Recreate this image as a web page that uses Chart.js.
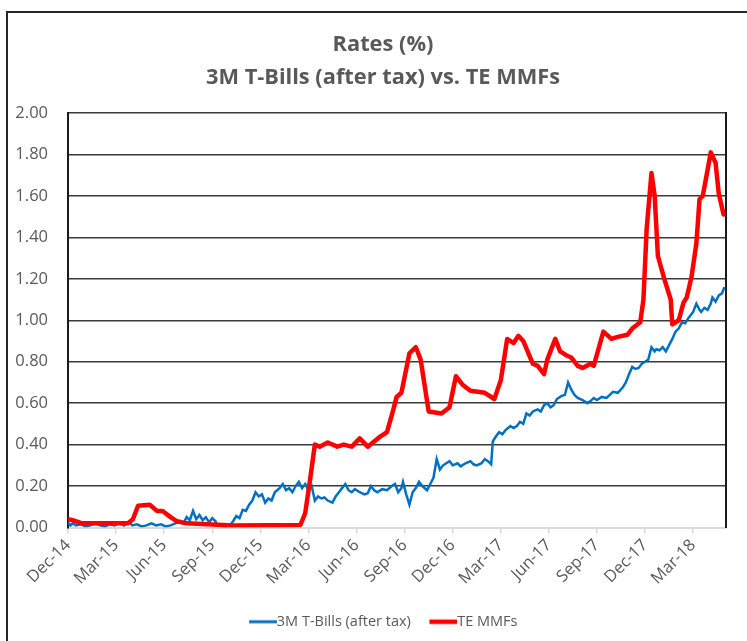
<!DOCTYPE html>
<html>
<head>
<meta charset="utf-8">
<script src="https://cdn.jsdelivr.net/npm/chart.js@4.4.0/dist/chart.umd.min.js"></script>
<style>
  html, body { margin: 0; padding: 0; background: #fff; overflow: hidden; }
  #rates { display: block; }
</style>
</head>
<body>
<canvas id="rates" width="766" height="641"></canvas>
<script>
// x values are months counted from Dec-14
const quarterMonths = [0, 3, 6, 9, 12, 15, 18, 21, 24, 27, 30, 33, 36, 39];
const quarterLabels = ["Dec-14", "Mar-15", "Jun-15", "Sep-15", "Dec-15", "Mar-16", "Jun-16",
  "Sep-16", "Dec-16", "Mar-17", "Jun-17", "Sep-17", "Dec-17", "Mar-18"];

const tbillMonths = [0, 0.15, 0.3, 0.5, 0.8, 1.1, 1.4, 1.7, 2.0, 2.3, 2.6, 2.9, 3.2, 3.5, 3.8, 4.0,
  4.3, 4.6, 4.9, 5.2, 5.5, 5.8, 6.1, 6.4, 6.7, 7.0, 7.2, 7.4, 7.6, 7.8, 8.0, 8.2, 8.4, 8.6, 8.8,
  9.0, 9.2, 9.3, 9.8, 10.1, 10.3, 10.5, 10.7, 10.9, 11.1, 11.3, 11.5, 11.7, 11.9, 12.1, 12.3,
  12.5, 12.7, 12.9, 13.2, 13.4, 13.6, 13.8, 14.0, 14.2, 14.4, 14.6, 14.8, 15.0, 15.2, 15.4,
  15.6, 15.8, 16.0, 16.2, 16.5, 16.7, 16.9, 17.1, 17.3, 17.5, 17.7, 17.9, 18.2, 18.5, 18.7,
  18.9, 19.1, 19.3, 19.6, 19.9, 20.2, 20.4, 20.6, 20.8, 20.9, 21.1, 21.3, 21.5, 21.7, 21.9,
  22.1, 22.4, 22.6, 22.8, 23.0, 23.2, 23.4, 23.6, 23.8, 24.0, 24.3, 24.5, 24.8, 25.1, 25.3,
  25.5, 25.8, 26.0, 26.2, 26.4, 26.5, 26.7, 26.9, 27.1, 27.3, 27.6, 27.8, 28.0, 28.2, 28.4,
  28.6, 28.8, 29.0, 29.3, 29.5, 29.7, 29.9, 30.1, 30.3, 30.5, 30.8, 31.0, 31.2, 31.4, 31.6,
  31.8, 32.1, 32.4, 32.6, 32.8, 33.0, 33.3, 33.6, 33.8, 34.0, 34.3, 34.6, 34.8, 35.0, 35.2,
  35.4, 35.6, 35.8, 36.0, 36.2, 36.4, 36.6, 36.7, 36.9, 37.1, 37.3, 37.5, 37.7, 37.9, 38.1,
  38.3, 38.5, 38.7, 38.9, 39.0, 39.2, 39.4, 39.5, 39.7, 39.9, 40.1, 40.2, 40.4, 40.6, 40.8, 40.95];
const tbillRates = [0.025, 0.01, 0.02, 0.01, 0.015, 0.005, 0.01, 0.02, 0.01, 0.005, 0.015, 0.01,
  0.02, 0.01, 0.03, 0.01, 0.015, 0.005, 0.01, 0.02, 0.01, 0.015, 0.005, 0.01, 0.02, 0.03, 0.02,
  0.05, 0.035, 0.08, 0.04, 0.06, 0.035, 0.05, 0.025, 0.045, 0.03, 0.01, 0.005, 0.01, 0.03,
  0.055, 0.045, 0.085, 0.08, 0.11, 0.13, 0.17, 0.15, 0.16, 0.12, 0.14, 0.13, 0.17, 0.19, 0.21,
  0.18, 0.19, 0.17, 0.2, 0.22, 0.19, 0.21, 0.18, 0.2, 0.13, 0.15, 0.14, 0.145, 0.13, 0.12,
  0.15, 0.17, 0.19, 0.21, 0.18, 0.17, 0.185, 0.17, 0.16, 0.165, 0.2, 0.18, 0.17, 0.185, 0.18,
  0.2, 0.21, 0.17, 0.19, 0.22, 0.16, 0.11, 0.17, 0.19, 0.22, 0.2, 0.18, 0.21, 0.24, 0.33, 0.28,
  0.3, 0.31, 0.32, 0.3, 0.31, 0.295, 0.31, 0.32, 0.305, 0.3, 0.31, 0.33, 0.32, 0.305, 0.415,
  0.44, 0.46, 0.45, 0.47, 0.49, 0.48, 0.49, 0.51, 0.5, 0.55, 0.54, 0.56, 0.57, 0.56, 0.59, 0.6,
  0.58, 0.59, 0.62, 0.635, 0.64, 0.7, 0.665, 0.64, 0.625, 0.615, 0.6, 0.61, 0.625, 0.615, 0.63,
  0.625, 0.64, 0.655, 0.65, 0.675, 0.7, 0.74, 0.775, 0.765, 0.77, 0.79, 0.8, 0.81, 0.87, 0.85,
  0.86, 0.855, 0.87, 0.85, 0.88, 0.91, 0.945, 0.96, 0.99, 0.985, 1.01, 1.03, 1.04, 1.08, 1.05,
  1.04, 1.06, 1.05, 1.08, 1.11, 1.09, 1.12, 1.13, 1.16];

const mmfMonths = [0, 0.3, 0.87, 3.74, 4.05, 4.37, 5.1, 5.55, 5.9, 6.4, 6.8, 7.4, 9.0, 10.3, 14.5,
  14.8, 15.1, 15.4, 15.7, 16.2, 16.8, 17.2, 17.7, 18.2, 18.7, 19.5, 19.9, 20.3, 20.5, 20.8,
  21.3, 21.7, 22.0, 22.5, 23.3, 23.8, 24.2, 24.6, 25.1, 26.0, 26.6, 27.0, 27.4, 27.8, 28.1,
  28.4, 29.0, 29.3, 29.7, 29.9, 30.4, 30.7, 31.1, 31.4, 31.8, 32.1, 32.6, 32.8, 33.4, 33.9,
  34.3, 34.9, 35.2, 35.7, 35.9, 36.1, 36.4, 36.6, 36.8, 37.2, 37.6, 37.7, 38.1, 38.4, 38.6,
  38.9, 39.2, 39.4, 39.6, 39.9, 40.1, 40.4, 40.6, 40.9];
const mmfRates = [0.04, 0.035, 0.02, 0.02, 0.04, 0.105, 0.11, 0.08, 0.08, 0.05, 0.03, 0.02,
  0.015, 0.01, 0.012, 0.07, 0.23, 0.4, 0.39, 0.41, 0.39, 0.4, 0.39, 0.43, 0.39, 0.44, 0.46,
  0.57, 0.63, 0.65, 0.84, 0.87, 0.81, 0.56, 0.55, 0.58, 0.73, 0.69, 0.66, 0.65, 0.62, 0.71,
  0.91, 0.89, 0.925, 0.9, 0.79, 0.78, 0.74, 0.81, 0.91, 0.85, 0.83, 0.82, 0.78, 0.77, 0.79,
  0.78, 0.945, 0.91, 0.92, 0.93, 0.96, 0.99, 1.1, 1.44, 1.71, 1.6, 1.31, 1.2, 1.1, 0.98, 1.0,
  1.085, 1.11, 1.21, 1.37, 1.585, 1.6, 1.725, 1.81, 1.76, 1.61, 1.51];

const textGray = "#595959";

// little line image used as the legend marker, drawn flush against the label
function legendLine(color, width) {
  const c = document.createElement("canvas");
  c.width = 36;
  c.height = 8;
  const g = c.getContext("2d");
  g.strokeStyle = color;
  g.lineWidth = width;
  g.beginPath();
  g.moveTo(8, 4);
  g.lineTo(36, 4);
  g.stroke();
  return c;
}

const framePlugin = {
  id: "frame",
  beforeDraw(chart) {
    const ctx = chart.ctx;
    ctx.save();
    ctx.fillStyle = "#fff";
    ctx.fillRect(0, 0, chart.width, chart.height);
    ctx.restore();
  },
  afterDraw(chart) {
    const ctx = chart.ctx;
    ctx.save();
    ctx.strokeStyle = "#262626";
    ctx.lineWidth = 2;
    ctx.strokeRect(7, 12, 752, 700);
    ctx.restore();
  },
};

Chart.defaults.font.family = "'Open Sans', sans-serif";

new Chart(document.getElementById("rates"), {
  type: "line",
  data: {
    datasets: [
      {
        label: "3M T-Bills (after tax)",
        data: tbillMonths.map((m, i) => ({ x: m, y: tbillRates[i] })),
        borderColor: "#0070C0",
        backgroundColor: "#0070C0",
        borderWidth: 2.5,
        pointRadius: 0,
        pointStyle: legendLine("#0070C0", 3),
        tension: 0,
        order: 1,
      },
      {
        label: "TE MMFs",
        data: mmfMonths.map((m, i) => ({ x: m, y: mmfRates[i] })),
        borderColor: "#FF0000",
        backgroundColor: "#FF0000",
        borderWidth: 4.5,
        borderJoinStyle: "round",
        borderCapStyle: "round",
        pointRadius: 0,
        pointStyle: legendLine("#FF0000", 4.5),
        tension: 0,
        order: 0,
      },
    ],
  },
  options: {
    responsive: false,
    animation: false,
    devicePixelRatio: 1,
    layout: { padding: { left: 0, right: 0, top: 0, bottom: 2 } },
    plugins: {
      title: {
        display: true,
        text: ["Rates (%)", "3M T-Bills (after tax) vs. TE MMFs"],
        color: textGray,
        font: { size: 21.8, weight: "bold", lineHeight: 33 / 21.8 },
        padding: { top: 28.5, bottom: 18.5 },
      },
      legend: {
        position: "bottom",
        labels: {
          usePointStyle: true,
          pointStyleWidth: 21,
          padding: 18,
          color: textGray,
          font: { size: 14.5 },
          sort: (a, b) => a.datasetIndex - b.datasetIndex,
        },
      },
      tooltip: { enabled: false },
    },
    scales: {
      x: {
        type: "linear",
        min: 0,
        max: 41.05,
        afterBuildTicks: (s) => {
          s.ticks = quarterMonths.map((v) => ({ value: v }));
        },
        afterFit: (s) => {
          s.height = 69;
        },
        ticks: {
          autoSkip: false,
          minRotation: 45,
          maxRotation: 45,
          padding: 2,
          color: textGray,
          font: { size: 16.5 },
          callback: (v, i) => quarterLabels[i],
        },
        grid: {
          drawOnChartArea: false,
          drawTicks: true,
          tickLength: 6,
          color: "#d9d9d9",
          lineWidth: 1.5,
        },
        border: { color: "#d9d9d9", width: 2 },
      },
      y: {
        min: 0,
        max: 2,
        afterFit: (s) => {
          s.width = 68;
        },
        ticks: {
          stepSize: 0.2,
          padding: 20,
          color: textGray,
          font: { size: 16.5 },
          callback: (v) => v.toFixed(2),
        },
        grid: {
          drawTicks: false,
          lineWidth: 1.5,
          color: (c) => (c.tick && c.tick.value === 0 ? "#d9d9d9" : "#3a3a3a"),
        },
        border: { color: "#1a1a1a", width: 2 },
      },
      yr: {
        type: "linear",
        position: "right",
        afterFit: (s) => {
          s.width = 40;
        },
        ticks: { display: false },
        grid: { drawOnChartArea: false, drawTicks: false },
        border: { color: "#1a1a1a", width: 2 },
      },
    },
  },
  plugins: [framePlugin],
});
</script>
</body>
</html>
